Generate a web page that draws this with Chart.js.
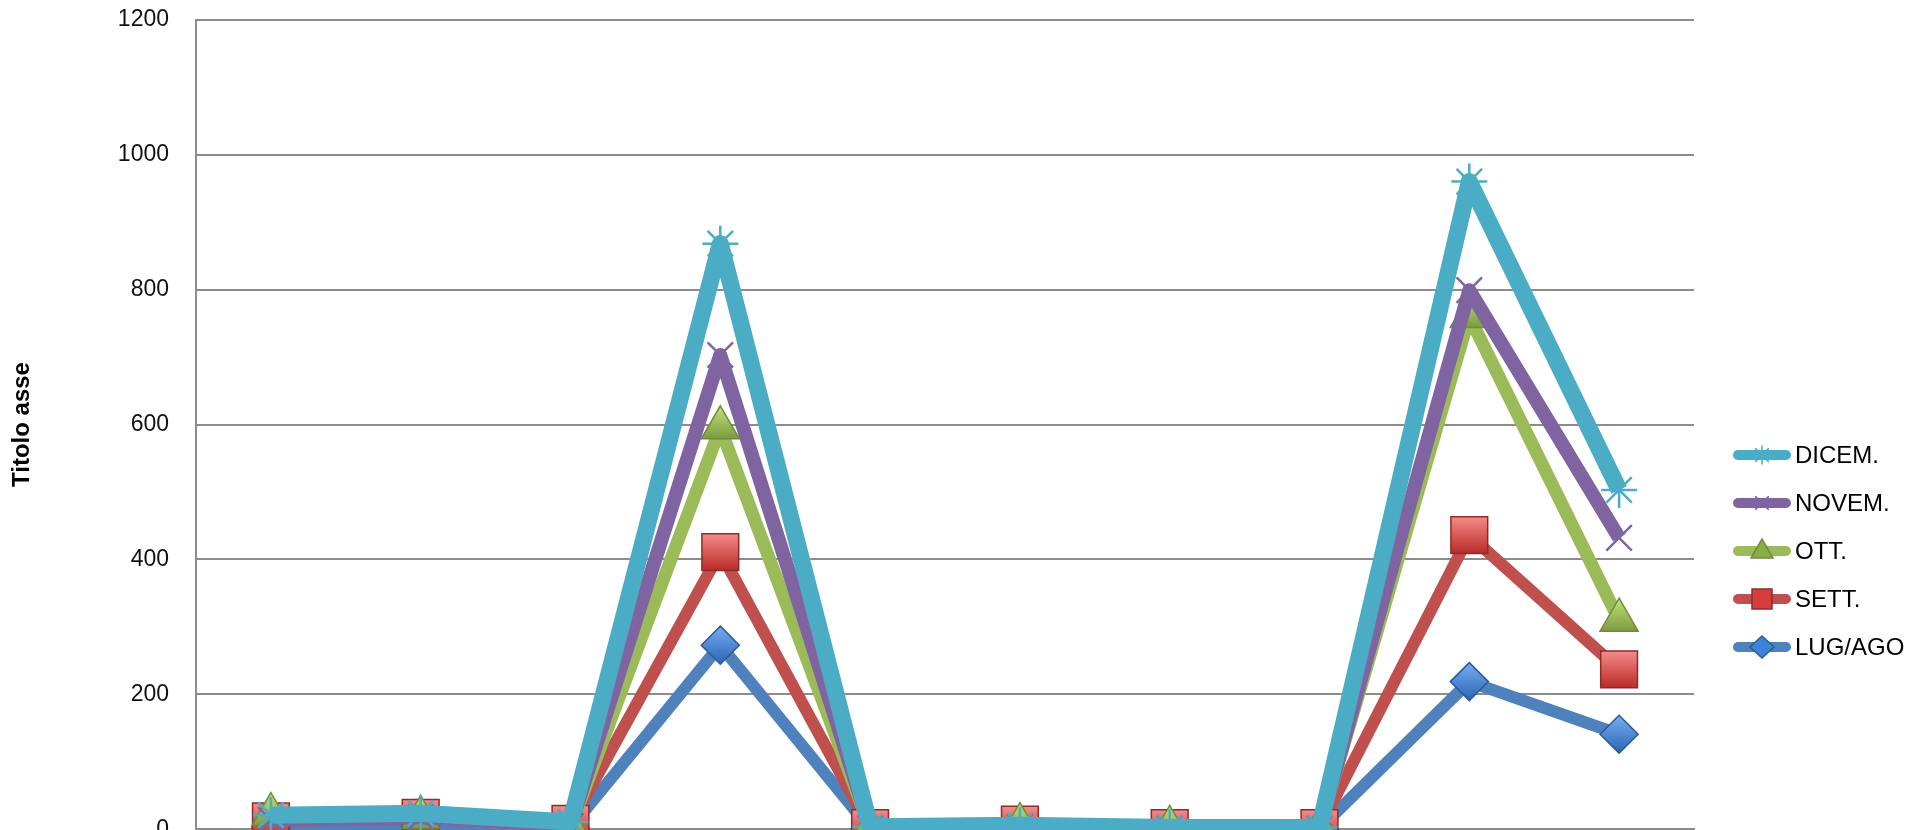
<!DOCTYPE html>
<html>
<head>
<meta charset="utf-8">
<script src="https://cdn.jsdelivr.net/npm/chart.js@4/dist/chart.umd.min.js"></script>
<style>
  html, body { margin: 0; padding: 0; background: #fff; overflow: hidden; }
  #wrap { width: 1917px; height: 845px; }
</style>
</head>
<body>
<div id="wrap"><canvas id="myChart" width="1917" height="845"></canvas></div>
<script>
// data (x labels are cut off in the reference)
const categories = ['1', '2', '3', '4', '5', '6', '7', '8', '9', '10'];
const seriesNames = ['DICEM.', 'NOVEM.', 'OTT.', 'SETT.', 'LUG/AGO'];
const dicem  = [21, 24, 11, 868, 4, 6, 3, 3, 960, 503];
const novem  = [14, 18, 5, 703, 2, 4, 2, 2, 799, 432];
const ott    = [22, 18, 4, 595, 2, 7, 3, 2, 760, 310];
const sett   = [12, 17, 8, 411, 2, 7, 2, 2, 436, 237];
const lugago = [3, 4, 2, 273, 1, 2, 1, 1, 219, 141];
const yTicks = [0, 200, 400, 600, 800, 1000, 1200];

const GRID = '#8c8c8c';

// vertical shading on the filled markers, a bit like the office bevel
function shade(light, dark, r){
  return function(c){
    const sc = c.chart.scales && c.chart.scales.y;
    if (c.type !== 'data' || !sc || !c.parsed) return dark;
    const y = sc.getPixelForValue(c.parsed.y);
    if (!isFinite(y)) return dark;
    const g = c.chart.ctx.createLinearGradient(0, y - r, 0, y + r);
    g.addColorStop(0, light);
    g.addColorStop(1, dark);
    return g;
  };
}

function makeSet(name, values, color, style, radius, fill, border, width, legendFill){
  return {
    label: name,
    data: values,
    borderColor: color,
    borderWidth: width,
    borderJoinStyle: 'round',
    tension: 0,
    pointStyle: style,
    pointRadius: radius,
    pointHoverRadius: radius,
    pointBackgroundColor: fill,
    pointBorderColor: border,
    pointBorderWidth: (style === 'star' || style === 'crossRot') ? 2.5 : 1.5,
    legendFill: legendFill,
    clip: false
  };
}

// legend drawn on the right like the office one: thick line + marker
const sideLegend = {
  id: 'sideLegend',
  afterDraw(chart){
    const ctx = chart.ctx;
    chart.data.datasets.forEach((ds, i) => {
      const y = 455 + i * 48;
      const cx = 1762;
      ctx.save();
      ctx.strokeStyle = ds.borderColor;
      ctx.lineWidth = 10;
      ctx.lineCap = 'round';
      ctx.beginPath();
      ctx.moveTo(1738, y);
      ctx.lineTo(1786, y);
      ctx.stroke();

      ctx.fillStyle = ds.legendFill;
      ctx.strokeStyle = ds.pointBorderColor;
      ctx.lineWidth = 1.5;
      ctx.beginPath();
      if (ds.pointStyle === 'star' || ds.pointStyle === 'crossRot') {
        const r = 9;
        const angs = ds.pointStyle === 'star' ? [0, 45, 90, 135] : [45, 135];
        angs.forEach(a => {
          const t = a * Math.PI / 180;
          ctx.moveTo(cx - Math.cos(t) * r, y - Math.sin(t) * r);
          ctx.lineTo(cx + Math.cos(t) * r, y + Math.sin(t) * r);
        });
        ctx.stroke();
      } else if (ds.pointStyle === 'triangle') {
        ctx.moveTo(cx, y - 12);
        ctx.lineTo(cx + 11, y + 7);
        ctx.lineTo(cx - 11, y + 7);
        ctx.closePath();
        ctx.fill(); ctx.stroke();
      } else if (ds.pointStyle === 'rect') {
        ctx.rect(cx - 10, y - 10, 20, 20);
        ctx.fill(); ctx.stroke();
      } else {
        ctx.moveTo(cx, y - 11);
        ctx.lineTo(cx + 12, y);
        ctx.lineTo(cx, y + 11);
        ctx.lineTo(cx - 12, y);
        ctx.closePath();
        ctx.fill(); ctx.stroke();
      }
      ctx.fillStyle = '#000';
      ctx.font = '24px "Liberation Sans"';
      ctx.textBaseline = 'middle';
      ctx.textAlign = 'left';
      ctx.fillText(ds.label, 1795, y + 1);
      ctx.restore();
    });
  }
};

const ctx = document.getElementById('myChart').getContext('2d');

new Chart(ctx, {
  type: 'line',
  data: {
    labels: categories,
    datasets: [
      makeSet(seriesNames[0], dicem,  '#4bacc6', 'star',     18, '#4bacc6', '#4bacc6', 17, '#4bacc6'),
      makeSet(seriesNames[1], novem,  '#8064a2', 'crossRot', 18, '#8064a2', '#8064a2', 14, '#8064a2'),
      makeSet(seriesNames[2], ott,    '#9bbb59', 'triangle', 22, shade('#b9d872', '#6e8d34', 18), '#6f8c3a', 13, '#8aad48'),
      makeSet(seriesNames[3], sett,   '#c0504d', 'rect',     26, shade('#f58a88', '#b92c29', 18), '#8e2b29', 12, '#d43f3c'),
      makeSet(seriesNames[4], lugago, '#4f81bd', 'rectRot',  19, shade('#74aef2', '#2d63b2', 19), '#2a5a99', 12, '#3f83d6')
    ]
  },
  options: {
    responsive: false,
    devicePixelRatio: 1,
    animation: false,
    events: [],
    layout: { autoPadding: false, padding: { left: 0, right: 223, top: 19.6, bottom: 15.6 } },
    plugins: {
      legend: { display: false },
      tooltip: { enabled: false }
    },
    scales: {
      x: {
        type: 'category',
        offset: true,
        afterFit: (scale) => { scale.height = 0; scale.paddingLeft = 0; scale.paddingRight = 0; },
        grid: { display: false, drawTicks: false },
        border: { display: true, color: GRID, width: 2 },
        ticks: { display: false }
      },
      y: {
        min: 0,
        max: 1200,
        afterBuildTicks: (scale) => { scale.ticks = yTicks.map(v => ({ value: v })); },
        afterFit: (scale) => { scale.width = 196; scale.paddingTop = 0; scale.paddingBottom = 0; },
        grid: { color: GRID, lineWidth: 2, drawTicks: false },
        border: { display: true, color: GRID, width: 2 },
        ticks: {
          padding: 27,
          color: '#111',
          callback: (v) => String(v),
          font: { family: '"Liberation Sans"', size: 23 }
        },
        title: {
          display: true,
          text: 'Titolo asse',
          color: '#000',
          padding: { top: 8, bottom: 0 },
          font: { family: '"Liberation Sans"', size: 24, weight: 'bold' }
        }
      }
    }
  },
  plugins: [sideLegend]
});
</script>
</body>
</html>
